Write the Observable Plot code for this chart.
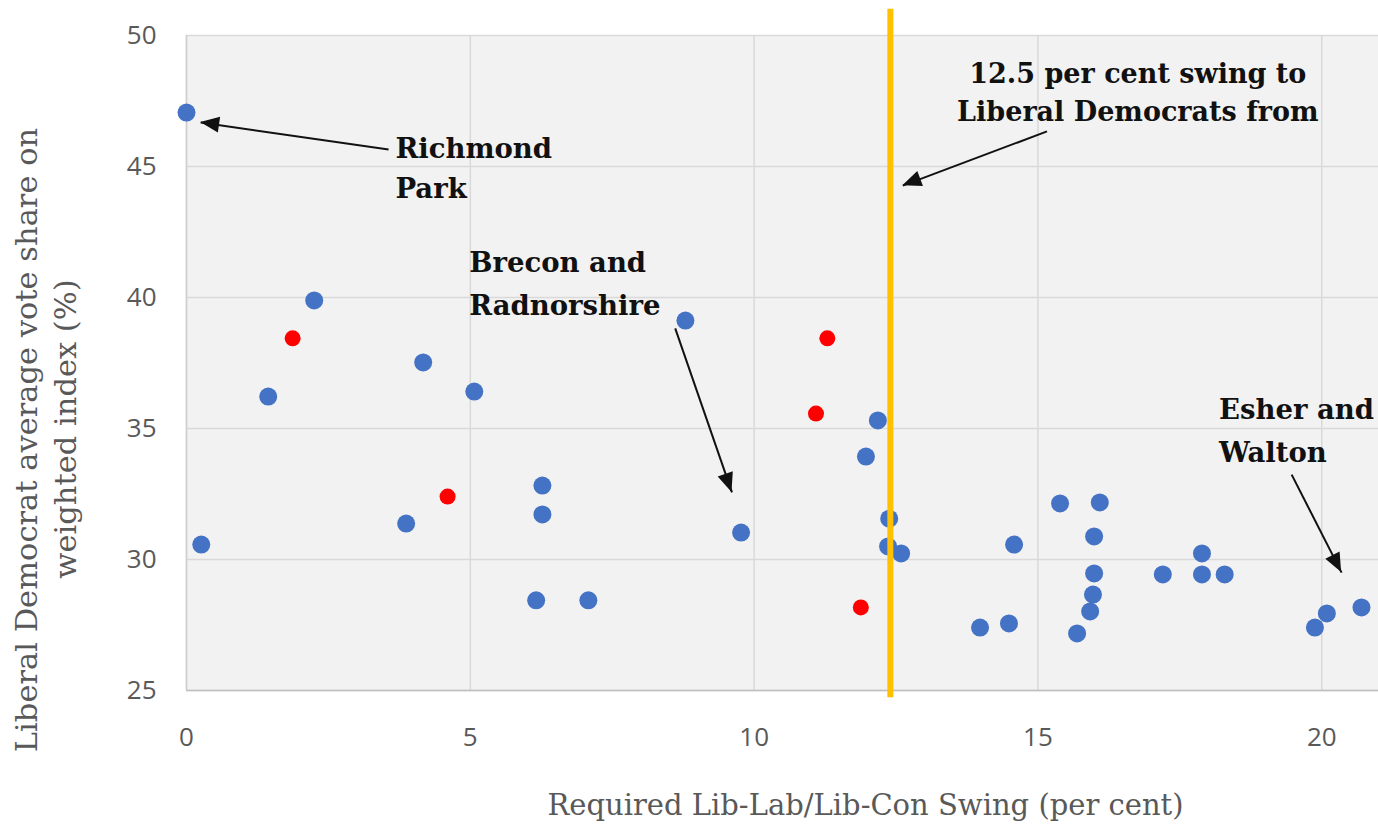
<!DOCTYPE html>
<html><head><meta charset="utf-8">
<script src="https://cdn.jsdelivr.net/npm/d3@7"></script>
<script src="https://cdn.jsdelivr.net/npm/@observablehq/plot@0.6"></script>
<style>body{margin:0;background:#fff;}</style>
</head><body><div id="chart"></div>
<script>
// Blue constituencies
const swingBlue = [0, 0.26, 1.44, 2.25, 3.87, 4.17, 5.07, 6.16, 6.27, 6.27, 7.08, 8.79, 9.77, 11.97, 12.18, 12.38, 12.36, 12.59, 13.98, 14.49, 14.58, 15.39, 15.69, 15.92, 15.97, 15.99, 15.99, 16.09, 17.2, 17.89, 17.89, 18.29, 19.88, 20.09, 20.70];
const shareBlue = [47.06, 30.57, 36.22, 39.89, 31.37, 37.52, 36.41, 28.44, 32.82, 31.72, 28.44, 39.12, 31.03, 33.93, 35.31, 31.56, 30.50, 30.23, 27.40, 27.56, 30.57, 32.14, 27.18, 28.02, 28.66, 29.47, 30.88, 32.18, 29.43, 30.23, 29.43, 29.43, 27.40, 27.94, 28.17];
// Red constituencies
const swingRed = [1.87, 4.60, 11.09, 11.29, 11.88];
const shareRed = [38.44, 32.40, 35.57, 38.44, 28.17];

const xTicks = [0, 5, 10, 15, 20];
const yTicks = [25, 30, 35, 40, 45, 50];
const thresholdSwing = [12.4];

const xTitle = "Required Lib-Lab/Lib-Con Swing (per cent)";
const yTitle1 = "Liberal Democrat average vote share on";
const yTitle2 = "weighted index (%)";

// annotations (data units)
const labelText = ["Richmond", "Park", "Brecon and", "Radnorshire", "Esher and", "Walton"];
const labelX = [3.68, 3.68, 4.98, 4.98, 18.19, 18.19];
const labelY = [45.65, 44.12, 41.30, 39.66, 35.69, 34.05];
const swingLabelText = ["12.5 per cent swing to", "Liberal Democrats from"];
const swingLabelX = [16.76, 16.76];
const swingLabelY = [48.51, 47.06];

const arrowX1 = [3.56, 8.61, 15.16, 19.47];
const arrowY1 = [45.65, 38.82, 46.34, 33.24];
const arrowX2 = [0.25, 9.61, 12.62, 20.35];
const arrowY2 = [46.68, 32.56, 44.27, 29.50];

const blue = swingBlue.map((x, i) => ({x, y: shareBlue[i]}));
const red = swingRed.map((x, i) => ({x, y: shareRed[i]}));
const labels = labelText.map((t, i) => ({t, x: labelX[i], y: labelY[i]}));
const swingLabels = swingLabelText.map((t, i) => ({t, x: swingLabelX[i], y: swingLabelY[i]}));
const arrows = arrowX1.map((x1, i) => ({x1, y1: arrowY1[i], x2: arrowX2[i], y2: arrowY2[i]}));

const annFont = "DejaVu Serif";
const plot = Plot.plot({
  width: 1378,
  height: 828,
  marginLeft: 186,
  marginRight: 0,
  marginTop: 35,
  marginBottom: 138,
  style: {background: "#fff", overflow: "visible"},
  x: {domain: [0, 21]},
  y: {domain: [25, 50]},
  marks: [
    Plot.frame({fill: "#f2f2f2", stroke: null}),
    Plot.gridX(xTicks, {stroke: "#d9d9d9", strokeOpacity: 1, strokeWidth: 1.5}),
    Plot.gridY(yTicks, {stroke: "#d9d9d9", strokeOpacity: 1, strokeWidth: 1.5}),
    Plot.ruleY([25], {stroke: "#bfbfbf", strokeWidth: 1.5}),
    Plot.ruleX([0], {stroke: "#cfcfcf", strokeWidth: 1.5}),
    Plot.axisX(xTicks, {tickSize: 0, tickPadding: 37, fontSize: 26, fontFamily: "Open Sans", fill: "#595959", label: null}),
    Plot.axisY(yTicks, {tickSize: 0, tickPadding: 30, fontSize: 26, fontFamily: "Open Sans", fill: "#595959", label: null}),
    Plot.dot(blue, {x: "x", y: "y", r: 9, fill: "#4472C4"}),
    Plot.dot(red, {x: "x", y: "y", r: 8, fill: "#FF0000"}),
    Plot.ruleX(thresholdSwing, {y1: 24.72, y2: 51.0, stroke: "#FFC000", strokeWidth: 6}),
    Plot.link(arrows, {x1: "x1", y1: "y1", x2: "x2", y2: "y2", stroke: "#111", strokeWidth: 2}),
    Plot.text(labels, {x: "x", y: "y", text: "t", textAnchor: "start", fontFamily: annFont, fontWeight: "bold", fontSize: 27.5, fill: "#111"}),
    Plot.text(swingLabels, {x: "x", y: "y", text: "t", textAnchor: "middle", fontFamily: annFont, fontWeight: "bold", fontSize: 27, fill: "#111"}),
    Plot.text([xTitle], {frameAnchor: "bottom", textAnchor: "middle", lineAnchor: "middle", dx: 83, dy: 115, fontFamily: "DejaVu Serif", fontSize: 29, fill: "#595959"}),
    Plot.text([yTitle1], {frameAnchor: "left", textAnchor: "middle", lineAnchor: "middle", dx: -159, dy: 77, rotate: -90, fontFamily: "DejaVu Serif", fontSize: 30.5, fill: "#595959"}),
    Plot.text([yTitle2], {frameAnchor: "left", textAnchor: "middle", lineAnchor: "middle", dx: -120, dy: 66, rotate: -90, fontFamily: "DejaVu Serif", fontSize: 30.5, fill: "#595959"})
  ]
});

// filled arrowheads positioned through the plot's own scales
const sx = plot.scale("x"), sy = plot.scale("y");
const svg = d3.select(plot);
arrows.forEach(a => {
  const x1 = sx.apply(a.x1), y1 = sy.apply(a.y1), x2 = sx.apply(a.x2), y2 = sy.apply(a.y2);
  const ang = Math.atan2(y2 - y1, x2 - x1);
  const L = 19, W = 8;
  const bx = x2 - L * Math.cos(ang), by = y2 - L * Math.sin(ang);
  const px = -Math.sin(ang) * W, py = Math.cos(ang) * W;
  svg.append("polygon")
    .attr("points", `${x2},${y2} ${bx + px},${by + py} ${bx - px},${by - py}`)
    .attr("fill", "#111");
});

document.getElementById("chart").appendChild(plot);
</script>
</body></html>
